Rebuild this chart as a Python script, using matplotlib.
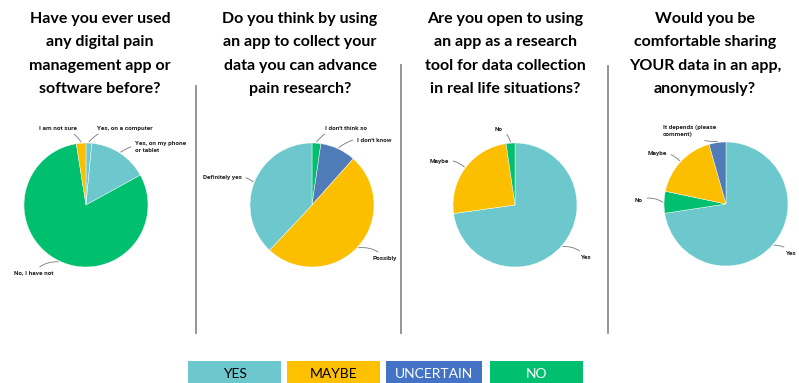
import numpy as np
import matplotlib
matplotlib.use("Agg")
import matplotlib.pyplot as plt
from matplotlib.patches import Rectangle

# -------------------------------------------------
# DATA (percent of respondents)
# -------------------------------------------------

teal = "#6CC8CC"
yellow = "#FBBF00"
blue = "#4F7BB8"
green = "#00BF6F"

titles = [
    "Have you ever used\nany digital pain\nmanagement app or\nsoftware before?",
    "Do you think by using\nan app to collect your\ndata you can advance\npain research?",
    "Are you open to using\nan app as a research\ntool for data collection\nin real life situations?",
    "Would you be\ncomfortable sharing\nYOUR data in an app,\nanonymously?",
]

q1_labels = ["Yes, on a computer", "Yes, on my phone\nor tablet", "No, I have not", "I am not sure"]
q1_values = [1.5, 15.5, 80.5, 2.5]
q1_colors = [teal, teal, green, yellow]

q2_labels = ["I don't think so", "I don't know", "Possibly", "Definitely yes"]
q2_values = [2.3, 9.3, 50.4, 38.0]
q2_colors = [green, blue, yellow, teal]

q3_labels = ["Yes", "Maybe", "No"]
q3_values = [72.8, 24.9, 2.3]
q3_colors = [teal, yellow, green]

q4_labels = ["Yes", "No", "Maybe", "It depends (please\ncomment)"]
q4_values = [72.6, 5.7, 17.3, 4.4]
q4_colors = [teal, green, yellow, blue]

legend_labels = ["YES", "MAYBE", "UNCERTAIN", "NO"]
legend_colors = [teal, "#FFC000", "#4472C4", "#00C06F"]
legend_text_colors = ["black", "black", "white", "white"]

# -------------------------------------------------
# LAYOUT (pixels, image coords: y grows downward)
# -------------------------------------------------

W, H = 799, 383
R = 62  # pie radius in px

pie_centers = [(86, 205), (312, 205), (515, 205), (726, 204)]
columns = [(0, 196), (196, 401), (401, 608), (608, 799)]
title_x = [100, 300, 505, 705]

# text anchor for each label (x, y, ha)
label_pos = [
    [(97, 128, "left"), (135, 147, "left"), (53, 273, "right"), (77, 128, "right")],
    [(325, 128, "left"), (357, 140, "left"), (373, 258, "left"), (242, 177, "right")],
    [(581, 257, "left"), (449, 161, "right"), (503, 129, "right")],
    [(786, 253, "left"), (643, 200, "right"), (667, 153, "right"), (663, 131, "left")],
]

separators = [(196, 86), (401, 65), (608, 66)]
sep_bottom = 333

legend_boxes = [(188, 281), (287, 380), (386, 482), (490, 583)]
legend_top = 361

plt.rcParams["font.family"] = ["Lato", "DejaVu Sans"]

fig = plt.figure(figsize=(W / 100, H / 100), dpi=100)

# background axes in pixel coords for separators / legend
bg = fig.add_axes([0, 0, 1, 1])
bg.set_xlim(0, W)
bg.set_ylim(H, 0)
bg.axis("off")

for x, y0 in separators:
    bg.plot([x, x], [y0, sep_bottom], color="#8C8C8C", lw=1.3)

for t, x in zip(titles, title_x):
    bg.text(x, 12, t, ha="center", va="top", fontsize=11.5, fontweight="bold",
            linespacing=1.86, color="black")

for (x0, x1), lab, c, tc in zip(legend_boxes, legend_labels, legend_colors, legend_text_colors):
    bg.add_patch(Rectangle((x0, legend_top), x1 - x0, H - legend_top + 5, color=c, lw=0))
    bg.text((x0 + x1) / 2, legend_top + 12.5, lab, ha="center", va="center",
            fontsize=10, color=tc)

# -------------------------------------------------
# PIES
# -------------------------------------------------

all_values = [q1_values, q2_values, q3_values, q4_values]
all_labels = [q1_labels, q2_labels, q3_labels, q4_labels]
all_colors = [q1_colors, q2_colors, q3_colors, q4_colors]

for i in range(4):
    cx, cy = pie_centers[i]
    x0, x1 = columns[i]
    y0, y1 = 110, 300
    ax = fig.add_axes([x0 / W, 1 - y1 / H, (x1 - x0) / W, (y1 - y0) / H])
    ax.axis("off")
    ax.patch.set_alpha(0)

    wedges, _ = ax.pie(all_values[i], colors=all_colors[i], startangle=90,
                       counterclock=False, radius=1.0,
                       wedgeprops=dict(edgecolor="white", linewidth=0.3))
    ax.set_xlim((x0 - cx) / R, (x1 - cx) / R)
    ax.set_ylim((cy - y1) / R, (cy - y0) / R)
    ax.set_aspect("auto")

    for w, lab, (px, py, ha) in zip(wedges, all_labels[i], label_pos[i]):
        mid = np.deg2rad((w.theta1 + w.theta2) / 2)
        pt = (1.02 * np.cos(mid), 1.02 * np.sin(mid))
        tx, ty = (px - cx) / R, (cy - py) / R
        rad = 0.25 if ha == "left" else -0.25
        ax.annotate(lab, xy=pt, xytext=(tx, ty), ha=ha, va="center",
                    fontsize=4.6, fontweight="bold", color="#222222",
                    family=["Roboto", "DejaVu Sans"], linespacing=1.3,
                    annotation_clip=False,
                    arrowprops=dict(arrowstyle="-", color="#777777", lw=0.6,
                                    shrinkA=1, shrinkB=0,
                                    connectionstyle=f"arc3,rad={rad}"))

fig.savefig("out.png", dpi=100)
